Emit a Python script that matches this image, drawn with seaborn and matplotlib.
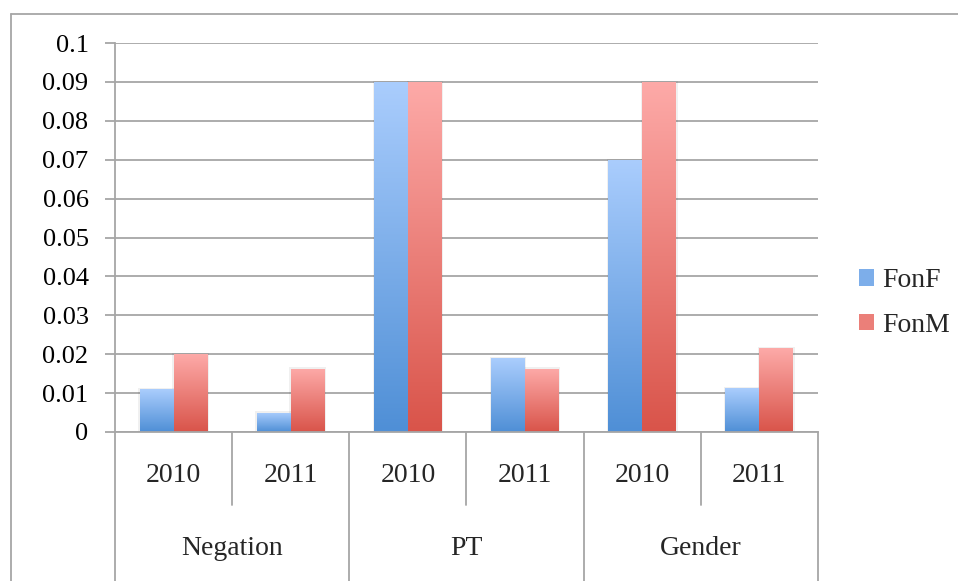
import numpy as np
import pandas as pd
import seaborn as sns
import matplotlib.pyplot as plt
from matplotlib.lines import Line2D
from matplotlib.patches import Patch
from matplotlib.colors import to_rgb
import matplotlib.transforms as mtransforms

# data
groups = ["Negation", "PT", "Gender"]
years = ["2010", "2011"]
series = ["FonF", "FonM"]
fonf = [0.011, 0.005, 0.090, 0.019, 0.070, 0.0112]
fonm = [0.020, 0.0163, 0.090, 0.0163, 0.090, 0.0215]
yticks = [0, 0.01, 0.02, 0.03, 0.04, 0.05, 0.06, 0.07, 0.08, 0.09, 0.1]

slots = [f"{g} {y}" for g in groups for y in years]
df = pd.DataFrame({
    "slot": slots * 2,
    "value": fonf + fonm,
    "series": [series[0]] * len(fonf) + [series[1]] * len(fonm),
})

grads = {"FonF": ("#aacdfd", "#4f8fd6"), "FonM": ("#fdaaa8", "#d9544a")}
grey = "#a6a6a6"
fs = 19
cat_fs = 20

sns.set_theme(style="white")
plt.rcParams["font.family"] = ["Liberation Serif", "DejaVu Serif"]

fig = plt.figure(figsize=(9.58, 5.81), dpi=100)
ax = fig.add_axes([115 / 958, 1 - 432 / 581, (818 - 115) / 958, (432 - 43) / 581])

sns.barplot(data=df, x="slot", y="value", hue="series", order=slots, hue_order=series,
            palette=[grads[s][1] for s in series], width=0.58, linewidth=0,
            legend=False, ax=ax)

# vertical gradient fill inside every bar, with a faint shadow behind it
for cont, name in zip(ax.containers, series):
    top, bot = grads[name]
    grad = np.linspace(to_rgb(top), to_rgb(bot), 128)[:, None, :]
    for bar in cont:
        x0, y0 = bar.get_x(), bar.get_y()
        w, h = bar.get_width(), bar.get_height()
        shadow = plt.Rectangle((x0 - 0.012, y0), w + 0.024, h + 0.0003, color="black",
                               alpha=0.06, lw=0, zorder=1.5)
        ax.add_patch(shadow)
        bar.set_facecolor("none")
        im = ax.imshow(grad, extent=(x0, x0 + w, y0, y0 + h), aspect="auto",
                       origin="upper", zorder=2, interpolation="bilinear")
        im.set_clip_path(bar)

ax.set_xlim(-0.5, len(slots) - 0.5)
ax.set_ylim(0, 0.1)
ax.set_yticks(yticks)
ax.set_yticklabels([f"{v:g}" for v in yticks], fontsize=fs)
ax.set_xticks([])
ax.set_xlabel("")
ax.set_ylabel("")
ax.yaxis.grid(True, color=grey, lw=1.3)
ax.set_axisbelow(True)
ax.tick_params(axis="y", left=True, length=7, width=1.3, color=grey, pad=12, labelcolor="black")
for side in ["top", "right"]:
    ax.spines[side].set_visible(False)
for side in ["left", "bottom"]:
    ax.spines[side].set_color(grey)
    ax.spines[side].set_linewidth(1.3)

# two-level category axis
trans = mtransforms.blended_transform_factory(ax.transData, ax.transAxes)
ax.add_line(Line2D([0, 0], [0, -0.45], transform=ax.transAxes, color=grey, lw=1.3, clip_on=False))
for i in range(len(slots)):
    b = i + 0.5
    low = -0.45 if i % 2 == 1 else -0.188
    ax.add_line(Line2D([b, b], [0, low], transform=trans, color=grey, lw=1.3, clip_on=False))
    ax.text(i, -0.112, years[i % 2], transform=trans, ha="center", va="center", fontsize=cat_fs)
for j, g in enumerate(groups):
    ax.text(2 * j + 0.5, -0.3, g, transform=trans, ha="center", va="center", fontsize=cat_fs)

# chart border
fig.add_artist(Line2D([11 / 958, 11 / 958], [1 - 14 / 581, 0], transform=fig.transFigure,
                      color=grey, lw=1.3))
fig.add_artist(Line2D([11 / 958, 1], [1 - 14 / 581, 1 - 14 / 581], transform=fig.transFigure,
                      color=grey, lw=1.3))

handles = [Patch(facecolor=np.mean([to_rgb(c) for c in grads[s]], axis=0), lw=0) for s in series]
fig.legend(handles, series, loc="center left", bbox_to_anchor=(859 / 958, 1 - 303 / 581),
           frameon=False, fontsize=cat_fs, handlelength=0.55, handleheight=0.55,
           handletextpad=0.3, labelspacing=0.7, borderpad=0, borderaxespad=0)

fig.savefig("out.png", dpi=100)
